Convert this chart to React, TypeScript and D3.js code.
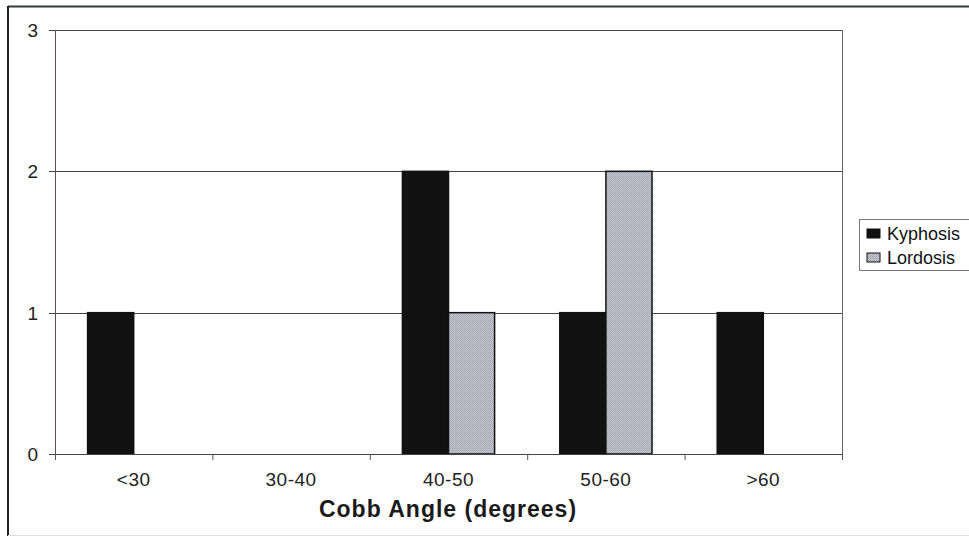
import React from "react";
import * as d3 from "d3";

const categories = ["<30", "30-40", "40-50", "50-60", ">60"];
const seriesNames = ["Kyphosis", "Lordosis"];
const kyphosis = [1, 0, 2, 1, 1];
const lordosis = [0, 0, 1, 2, 0];
const yTicks = [0, 1, 2, 3];
const xTitle = "Cobb Angle (degrees)";

const W = 969;
const H = 537;
const plot = { left: 55, right: 842, top: 30, bottom: 454 };
const FONT = "Arial, 'Liberation Sans', Helvetica, sans-serif";

export default function App() {
  const x = d3.scaleBand<string>().domain(categories).range([plot.left, plot.right]).padding(0);
  const xs = d3
    .scaleBand<string>()
    .domain(seriesNames)
    .range([0, x.bandwidth()])
    .paddingInner(0)
    .paddingOuter(0.707);
  const y = d3.scaleLinear().domain([0, 3]).range([plot.bottom, plot.top]);
  const values: Record<string, number[]> = { Kyphosis: kyphosis, Lordosis: lordosis };
  const fills: Record<string, string> = { Kyphosis: "#111111", Lordosis: "url(#stipple)" };
  const boundaries = [...categories.map((c) => x(c) as number), plot.right];

  return (
    <svg
      width={W}
      height={H}
      style={{ position: "fixed", left: 0, top: 0, background: "#fff" }}
      fontFamily={FONT}
    >
      <defs>
        <pattern id="stipple" width="2" height="2" patternUnits="userSpaceOnUse">
          <rect width="2" height="2" fill="#c9ccd4" />
          <rect width="1" height="1" fill="#9a9eaa" />
          <rect x="1" y="1" width="1" height="1" fill="#a6aab6" />
        </pattern>
      </defs>
      <rect x={0} y={0} width={W} height={H} fill="#fff" />
      {/* outer border */}
      <line x1={8} y1={6.5} x2={W} y2={6.5} stroke="#2f3a2f" strokeWidth={2} />
      <line x1={8} y1={6} x2={8} y2={536} stroke="#222" strokeWidth={2} />
      <line x1={8} y1={535.5} x2={W} y2={535.5} stroke="#ddd" strokeWidth={1} />

      {/* gridlines */}
      {yTicks.map((t) => (
        <line
          key={"g" + t}
          x1={plot.left}
          x2={plot.right}
          y1={Math.round(y(t)) + 0.5}
          y2={Math.round(y(t)) + 0.5}
          stroke="#444"
          strokeWidth={1}
        />
      ))}
      {/* plot border right */}
      <line x1={plot.right + 0.5} x2={plot.right + 0.5} y1={plot.top} y2={plot.bottom} stroke="#666" />
      {/* y axis */}
      <line x1={plot.left + 0.5} x2={plot.left + 0.5} y1={plot.top} y2={plot.bottom + 6} stroke="#6a4a4a" />
      {yTicks.map((t) => (
        <g key={"yt" + t}>
          <line
            x1={plot.left - 6}
            x2={plot.left}
            y1={Math.round(y(t)) + 0.5}
            y2={Math.round(y(t)) + 0.5}
            stroke="#444"
          />
          <text x={38} y={y(t)} dy="0.36em" textAnchor="end" fontSize={19} fill="#222">
            {t}
          </text>
        </g>
      ))}

      {/* bars */}
      {categories.map((c, i) => (
        <g key={c} transform={`translate(${x(c)},0)`}>
          {seriesNames.map((s) => {
            const v = values[s][i];
            if (!v) return null;
            return (
              <rect
                key={s}
                x={xs(s)}
                y={y(v)}
                width={xs.bandwidth()}
                height={y(0) - y(v)}
                fill={fills[s]}
                stroke="#111"
                strokeWidth={1.5}
              />
            );
          })}
        </g>
      ))}

      {/* x axis */}
      <line x1={plot.left} x2={plot.right + 1} y1={plot.bottom + 0.5} y2={plot.bottom + 0.5} stroke="#444" />
      {boundaries.map((b, i) => (
        <line key={"xt" + i} x1={b + 0.5} x2={b + 0.5} y1={plot.bottom} y2={plot.bottom + 6} stroke="#555" />
      ))}
      {categories.map((c) => (
        <text
          key={"xl" + c}
          x={(x(c) as number) + x.bandwidth() / 2}
          y={486}
          textAnchor="middle"
          fontSize={19}
          letterSpacing={0.5}
          fill="#222"
        >
          {c}
        </text>
      ))}
      <text
        x={448}
        y={517}
        textAnchor="middle"
        fontSize={23}
        fontWeight="bold"
        letterSpacing={1}
        fill="#1a1a1a"
      >
        {xTitle}
      </text>

      {/* legend */}
      <rect x={859.5} y={219.5} width={130} height={51} fill="#fff" stroke="#777" />
      {seriesNames.map((s, i) => (
        <g key={"lg" + s} transform={`translate(0,${i * 24})`}>
          <rect x={867} y={229} width={13} height={9} fill={fills[s]} stroke="#111" strokeWidth={1} />
          <text x={887} y={240} fontSize={18} fill="#111">
            {s}
          </text>
        </g>
      ))}
    </svg>
  );
}
